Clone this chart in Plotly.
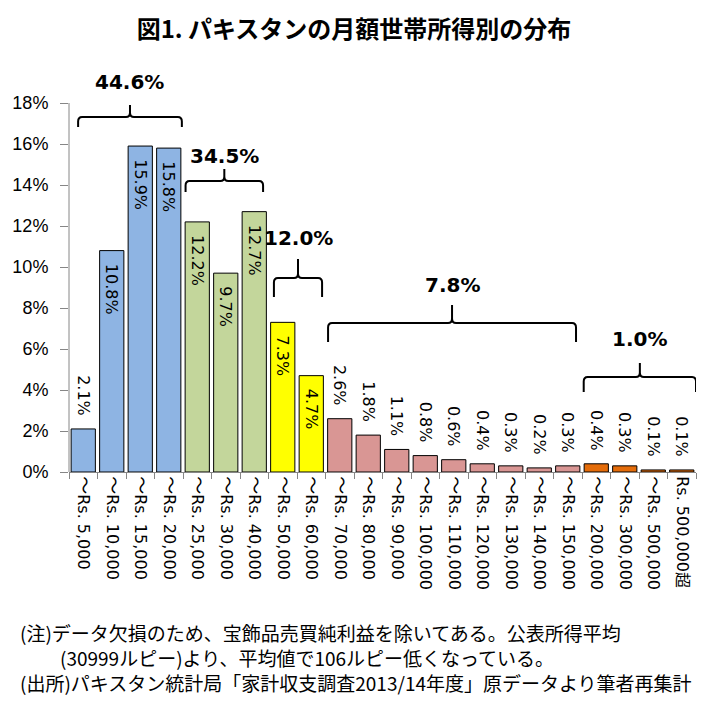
import plotly.graph_objects as go

# ---------------- data ----------------
categories = ["～Rs. 5,000", "～Rs. 10,000", "～Rs. 15,000", "～Rs. 20,000",
              "～Rs. 25,000", "～Rs. 30,000", "～Rs. 40,000", "～Rs. 50,000",
              "～Rs. 60,000", "～Rs. 70,000", "～Rs. 80,000", "～Rs. 90,000",
              "～Rs. 100,000", "～Rs. 110,000", "～Rs. 120,000", "～Rs. 130,000",
              "～Rs. 140,000", "～Rs. 150,000", "～Rs. 200,000", "～Rs. 300,000",
              "～Rs. 500,000", "Rs. 500,000超"]
values = [2.1, 10.8, 15.9, 15.8, 12.2, 9.7, 12.7, 7.3, 4.7, 2.6, 1.8, 1.1,
          0.8, 0.6, 0.4, 0.3, 0.2, 0.3, 0.4, 0.3, 0.1, 0.1]
bar_group = [0, 0, 0, 0, 1, 1, 1, 2, 2, 3, 3, 3, 3, 3, 3, 3, 3, 3, 4, 4, 4, 4]
group_labels = ["44.6%", "34.5%", "12.0%", "7.8%", "1.0%"]
y_ticks = [0, 2, 4, 6, 8, 10, 12, 14, 16, 18]

title_text = "図1. パキスタンの月額世帯所得別の分布"
notes = ["(注)データ欠損のため、宝飾品売買純利益を除いてある。公表所得平均",
         "(30999ルピー)より、平均値で106ルピー低くなっている。",
         "(出所)パキスタン統計局「家計収支調査2013/14年度」原データより筆者再集計"]

# ---------------- style ----------------
group_colors = ["#8EB4E3", "#C3D69B", "#FFFF00", "#D99694", "#E46C0A"]
inside_groups = {0, 1, 2}
# bracket geometry (x range in category units, y levels in % units)
bracket_geom = [
    dict(x0=-0.18, x1=3.46, yb=16.83, yh=17.32, yp=17.90, yt=19.02),
    dict(x0=3.59, x1=6.31, yb=13.66, yh=14.20, yp=14.78, yt=15.41),
    dict(x0=6.69, x1=8.38, yb=8.54, yh=9.46, yp=10.39, yt=11.41),
    dict(x0=8.59, x1=17.29, yb=6.34, yh=7.27, yp=8.15, yt=9.12),
    dict(x0=17.56, x1=21.50, yb=3.90, yh=4.63, yp=5.32, yt=6.49),
]

# the page body has an 8px margin, so everything is laid out 8px up/left
OFF = 8
W, H = 719 - OFF, 712 - OFF
L, R, T, B = 69 - OFF, 23, 60 - OFF, 240
plot_h = H - T - B
plot_w = W - L - R
px_per_pct = 20.5
y_top = plot_h / px_per_pct

FONT = "DejaVu Sans, Noto Sans CJK JP, sans-serif"
JFONT = "Noto Sans CJK JP, sans-serif"
NB = "\u00a0"

colors = [group_colors[g] for g in bar_group]
texts, positions = [], []
for i, v in enumerate(values):
    inside = bar_group[i] in inside_groups and i != 0
    if inside:
        texts.append(NB * 2 + f"{v:.1f}%")
        positions.append("inside")
    else:
        texts.append(f"{v:.1f}%" + NB * 2)
        positions.append("outside")


def fmt_tick(label):
    out = ""
    for ch in label:
        if ch == "～":
            out += f'<span style="font-family:Noto Sans CJK JP;font-size:18px">{ch}</span>'
        elif ch == "超":
            out += f'<span style="font-family:Noto Sans CJK JP">{ch}</span>'
        else:
            out += ch
    return out


fig = go.Figure()
fig.add_trace(go.Bar(
    x=categories, y=values,
    marker=dict(color=colors, line=dict(color="black", width=1)),
    width=0.85,
    text=texts, textposition=positions, textangle=90,
    insidetextanchor="end", constraintext="none", cliponaxis=False,
    textfont=dict(family=FONT, size=16, color="black"),
    hoverinfo="skip",
))

# brackets
rx = 0.14
ry = 0.22
for g, bg in enumerate(bracket_geom):
    x0, x1, yb, yh, yp = bg["x0"], bg["x1"], bg["yb"], bg["yh"], bg["yp"]
    xm = (x0 + x1) / 2
    path = (f"M {x0},{yb} L {x0},{yh - ry} Q {x0},{yh} {x0 + rx},{yh} "
            f"L {xm - rx},{yh} Q {xm},{yh} {xm},{yh + ry} L {xm},{yp} "
            f"L {xm},{yh + ry} Q {xm},{yh} {xm + rx},{yh} "
            f"L {x1 - rx},{yh} Q {x1},{yh} {x1},{yh - ry} L {x1},{yb}")
    fig.add_shape(type="path", path=path, xref="x", yref="y",
                  line=dict(color="black", width=2))
    fig.add_annotation(x=xm, y=bg["yt"], xref="x", yref="y",
                       text=f"<b>{group_labels[g]}</b>", showarrow=False,
                       font=dict(family=FONT, size=20, color="black"),
                       xanchor="center", yanchor="middle")

# y axis line (only up to 18%)
fig.add_shape(type="line", xref="paper", yref="y", x0=0, x1=0,
              y0=0, y1=y_ticks[-1], line=dict(color="#868686", width=1))


def px_x(px):
    return (px - OFF - L) / plot_w


def px_y(py):
    return (H - B - (py - OFF)) / plot_h


note_pos = [(18, 632), (58, 657), (18, 682)]
for (nx, ny), t in zip(note_pos, notes):
    fig.add_annotation(x=px_x(nx), y=px_y(ny), xref="paper", yref="paper",
                       text=t, showarrow=False, xanchor="left", yanchor="middle",
                       font=dict(family=JFONT, size=19, color="black"))

fig.update_layout(
    template="none",
    width=W, height=H,
    margin=dict(l=L, r=R, t=T, b=B, autoexpand=False),
    paper_bgcolor="white", plot_bgcolor="white",
    showlegend=False,
    title=dict(text=f"<b>{title_text}</b>", x=(354 - OFF) / W, xref="container",
               xanchor="center", y=1 - (30 - OFF) / H, yref="container",
               yanchor="middle",
               font=dict(family=JFONT, size=24, color="black")),
    bargap=0.15,
)
fig.update_xaxes(
    type="category", range=[-0.5, len(categories) - 0.5], automargin=False,
    tickmode="array", tickvals=categories,
    ticktext=[fmt_tick(c) for c in categories],
    showline=True, linecolor="#868686", linewidth=1,
    ticks="outside", tickson="boundaries", ticklen=6, tickcolor="#868686",
    tickangle=90, tickfont=dict(family=FONT, size=16, color="black"),
    showgrid=False, zeroline=False,
)
fig.update_yaxes(
    range=[0, y_top], tickvals=y_ticks, ticktext=[f"{v}%" for v in y_ticks],
    automargin=False,
    showline=False, ticks="outside", ticklen=8, tickcolor="#868686",
    ticklabelstandoff=8,
    tickfont=dict(family="Liberation Sans, Arial, sans-serif", size=18, color="black"),
    showgrid=False, zeroline=False,
)

fig.write_html("out.html")
